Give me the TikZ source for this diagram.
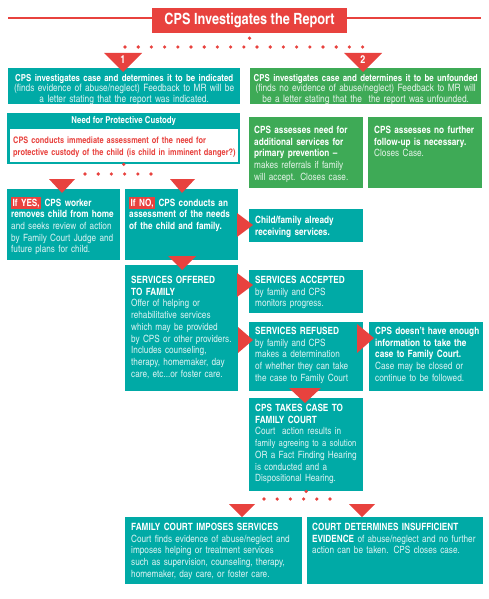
\documentclass[tikz,border=0pt]{standalone}
\usepackage{fontspec}
\setmainfont{texgyreheroscn}[Extension=.otf, UprightFont=*-regular, BoldFont=*-bold, ItalicFont=*-italic, BoldItalicFont=*-bolditalic]
\usepackage{xcolor}
\usetikzlibrary{calc}

\definecolor{CpsTeal}{RGB}{0,170,166}
\definecolor{CpsGreen}{RGB}{62,170,86}
\definecolor{CpsRed}{RGB}{232,66,62}

\newcommand{\hd}[1]{{\fontsize{10}{11.7}\selectfont\bfseries\color{white}#1}}
\newcommand{\flag}[1]{{\setlength{\fboxsep}{1.5pt}\colorbox{CpsRed}{\fontsize{10}{11.7}\selectfont\bfseries\color{white}#1}}}

\begin{document}
\begin{tikzpicture}[
  x=1pt, y=-1pt,
  tealbox/.style={fill=CpsTeal, inner sep=0pt, anchor=north west},
  greenbox/.style={fill=CpsGreen, inner sep=0pt, anchor=north west},
  boxtext/.style={anchor=north west, inner sep=0pt, align=left, text=white!85!CpsTeal, font=\fontsize{10}{11.7}\selectfont},
  greentext/.style={boxtext, text=white!85!CpsGreen},
  outcometext/.style={anchor=north, align=center, text width=260, font=\fontsize{10.2}{10.7}\selectfont},
  marker/.style={fill=CpsRed},
  dotrow/.style={CpsRed, line width=3.6pt, line cap=round, dash pattern=on 0pt off 13.2pt}
]
\useasboundingbox (0,0) rectangle (489,599);

% Title
\draw[CpsRed, line width=1.5pt] (8,18) -- (481,18);
\node[fill=CpsRed, text=white, minimum width=195, minimum height=25, font=\bfseries\fontsize{15.5}{17}\selectfont] (title) at (249.5,20.5) {CPS Investigates the Report};

% Outcome 1 / 2
\fill[CpsRed] ($(title.south)+(0,5)$) circle (1.8);
\draw[dotrow] (125,47) -- (363,47);

\node[tealbox, minimum width=232, minimum height=36] (indicated) at (8,68) {};
\node[boxtext, outcometext] (indicatedtxt) at ($(indicated.north)+(0,6)$)
  {{\fontsize{9.6}{10.7}\selectfont\bfseries\color{white}CPS investigates case and determines it to be indicated}\\(finds evidence of abuse/neglect) Feedback to MR will be\\a letter stating that the report was indicated.};

\node[greenbox, minimum width=231, minimum height=36] (unfounded) at (250,68) {};
\node[greentext, outcometext] (unfoundedtxt) at ($(unfounded.north)+(0,6)$)
  {{\fontsize{9.6}{10.7}\selectfont\bfseries\color{white}CPS investigates case and determines it to be unfounded}\\(finds no evidence of abuse/neglect) Feedback to MR will\\be a letter stating that the\ \ the report was unfounded.};

% Protective custody
\node[tealbox, minimum width=233, minimum height=51] (custody) at (7,113) {};
\node[fill=white, inner sep=0pt, anchor=north west, minimum width=228, minimum height=32.5] (custodybody) at (9.5,129) {};
\node[text=white, font=\bfseries\fontsize{9.5}{11}\selectfont] (custodyhead) at ($(custody.north)+(0,8.5)$) {Need for Protective Custody};
\node[boxtext, text=CpsRed, font=\bfseries\fontsize{9}{11.7}\selectfont, text width=226] (custodytxt) at ($(custodybody.north west)+(3.5,7.5)$)
  {CPS conducts immediate assessment of the need for\\protective custody of the child (is child in imminent danger?)};

% Green follow-up boxes
\node[greenbox, minimum width=114, minimum height=71] (primary) at (249,117) {};
\node[greentext, text width=112] (primarytxt) at ($(primary.north west)+(5,9)$)
  {\hd{CPS assesses need for}\\\hd{additional services for}\\\hd{primary prevention --}\\makes referrals if family\\will accept. Closes case.};

\node[greenbox, minimum width=114, minimum height=71] (nofollow) at (368,117) {};
\node[greentext, text width=112] (nofollowtxt) at ($(nofollow.north west)+(6,9)$)
  {\hd{CPS assesses no further}\\\hd{follow-up is necessary.}\\Closes Case.};

\fill[CpsRed] (custody.south) circle (1.8);
\draw[dotrow] (85,174) -- (163,174);

% Yes / No
\node[tealbox, minimum width=113, minimum height=71] (removal) at (7,189) {};
\node[boxtext, text width=112] (removaltxt) at ($(removal.north west)+(4,8)$)
  {\flag{If YES,} \hd{CPS worker}\\\hd{removes child from home}\\and seeks review of action\\by Family Court Judge and\\future plans for child.};

\node[tealbox, minimum width=113, minimum height=71] (assess) at (125,189) {};
\node[boxtext, text width=112] (assesstxt) at ($(assess.north west)+(4,8)$)
  {\flag{If NO,} \hd{CPS conducts an}\\\hd{assessment of the needs}\\\hd{of the child and family.}};

\node[tealbox, minimum width=114, minimum height=33] (receiving) at (249,209) {};
\node[boxtext, text width=112] (receivingtxt) at ($(receiving.north west)+(6,7)$)
  {\hd{Child/family already}\\\hd{receiving services.}};

% Services
\node[tealbox, minimum width=113, minimum height=126] (offered) at (125,265) {};
\node[boxtext, text width=112] (offeredtxt) at ($(offered.north west)+(6,11)$)
  {\hd{SERVICES OFFERED}\\\hd{TO FAMILY}\\Offer of helping or\\rehabilitative services\\which may be provided\\by CPS or other providers.\\Includes counseling,\\therapy, homemaker, day\\care, etc...or foster care.};

\node[tealbox, minimum width=114, minimum height=43] (accepted) at (249,270) {};
\node[boxtext, text width=112] (acceptedtxt) at ($(accepted.north west)+(6,6)$)
  {\hd{SERVICES ACCEPTED}\\by family and CPS\\monitors progress.};

\node[tealbox, minimum width=114, minimum height=69] (refused) at (249,322) {};
\node[boxtext, text width=112] (refusedtxt) at ($(refused.north west)+(6,5)$)
  {\hd{SERVICES REFUSED}\\by family and CPS\\makes a determination\\of whether they can take\\the case to Family Court};

\node[tealbox, minimum width=114, minimum height=69] (notenough) at (369,322) {};
\node[boxtext, text width=112] (notenoughtxt) at ($(notenough.north west)+(6,5)$)
  {\hd{CPS doesn’t have enough}\\\hd{information to take the}\\\hd{case to Family Court.}\\Case may be closed or\\continue to be followed.};

\node[tealbox, minimum width=114, minimum height=93] (court) at (249,398) {};
\node[boxtext, text width=112] (courttxt) at ($(court.north west)+(6,6)$)
  {\hd{CPS TAKES CASE TO}\\\hd{FAMILY COURT}\\Court\ \ action results in\\{\fontsize{9.5}{11.7}\selectfont family agreeing to a solution}\\OR a Fact Finding Hearing\\is conducted and a\\Dispositional Hearing.};

\fill[CpsRed] (court.south) circle (1.8);
\draw[dotrow] (264,499) -- (343,499);

% Court outcomes
\node[tealbox, minimum width=177, minimum height=67] (imposes) at (125,517) {};
\node[boxtext, text width=174] (imposestxt) at ($(imposes.north west)+(6,6)$)
  {\hd{FAMILY COURT IMPOSES SERVICES}\\Court finds evidence of abuse/neglect and\\imposes helping or treatment services\\such as supervision, counseling, therapy,\\homemaker, day care, or foster care.};

\node[tealbox, minimum width=176, minimum height=67] (insufficient) at (307,517) {};
\node[boxtext, text width=174] (insufficienttxt) at ($(insufficient.north west)+(5,6)$)
  {\hd{COURT DETERMINES INSUFFICIENT}\\\hd{EVIDENCE} of abuse/neglect and no further\\action can be taken. CPS closes case.};

% Down markers
\fill[marker] (104,53) -- (142,53) -- (123,72) -- cycle;
\node[text=white, font=\bfseries\fontsize{11}{12}\selectfont] (one) at (123,60) {1};
\fill[marker] (344,53) -- (382,53) -- (363,72) -- cycle;
\node[text=white, font=\bfseries\fontsize{11}{12}\selectfont] (two) at (363,60) {2};
\fill[marker] (49,179) -- (75,179) -- (62,193) -- cycle;
\fill[marker] (170,179) -- (195,179) -- (182,193) -- cycle;
\fill[marker] (168,256) -- (196,256) -- (182,270) -- cycle;
\fill[marker] (289,388) -- (321,388) -- (305,403) -- cycle;
\fill[marker] (229,504) -- (255,504) -- (242,517) -- cycle;
\fill[marker] (349,504) -- (375,504) -- (362,517) -- cycle;

% Right markers
\fill[marker] (237,213) -- (237,237) -- (253,225) -- cycle;
\fill[marker] (237,273) -- (237,297) -- (253,285) -- cycle;
\fill[marker] (238,327) -- (238,353) -- (253,340) -- cycle;
\fill[marker] (357,324) -- (357,353) -- (374,338) -- cycle;

\end{tikzpicture}
\end{document}
